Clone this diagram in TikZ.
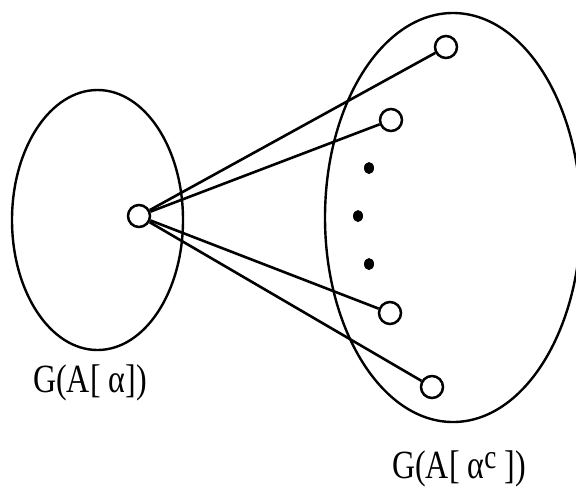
\documentclass[tikz,border=0pt]{standalone}
\usepackage{fontspec}
\setmainfont{Liberation Serif}
\usepackage{tikz}
\usetikzlibrary{shapes.geometric}
\tikzset{
  vtx/.style={circle,draw,line width=1.25pt,fill=white,inner sep=0pt,minimum size=11pt},
  blob/.style={ellipse,fill,inner sep=0pt,minimum width=5pt,minimum height=6pt},
  part/.style={ellipse,draw,line width=1.2pt,inner sep=0pt},
  link/.style={line width=1.3pt},
  lbl/.style={font=\fontsize{20}{24}\selectfont,inner sep=0pt}
}
\newcommand{\squeeze}[1]{\scalebox{0.8}[1]{#1}}
\newcommand{\supc}{\raisebox{0.55ex}{\fontsize{17}{17}\selectfont c}}

\begin{document}
\begin{tikzpicture}[x=0.5pt,y=-0.5pt]
  \useasboundingbox (0,0) rectangle (576,488);
  \clip (0,0) rectangle (576,488);
  % the two parts
  \node[part,minimum width=85.5pt,minimum height=130pt] (ga) at (97.5,220) {};
  \node[part,minimum width=128pt,minimum height=204.5pt] (gc) at (453,217.5) {};
  % vertices
  \node[vtx] (v) at (139,216) {};
  \node[vtx] (w1) at (446,47) {};
  \node[vtx] (w2) at (391,120) {};
  \node[vtx] (w3) at (390,313) {};
  \node[vtx] (w4) at (432,387) {};
  \foreach \i in {1,...,4}
    \draw[link] (v)--(w\i);
  % dots
  \node[blob] (d1) at (369,168) {};
  \node[blob] (d2) at (358,216) {};
  \node[blob] (d3) at (369,264) {};
  % labels
  \node[lbl] (la) at (90,383) {\squeeze{G(A[ α])}};
  \node[lbl] (lc) at (459,469) {\squeeze{G(A[ α\supc\ ])}};
\end{tikzpicture}
\end{document}
